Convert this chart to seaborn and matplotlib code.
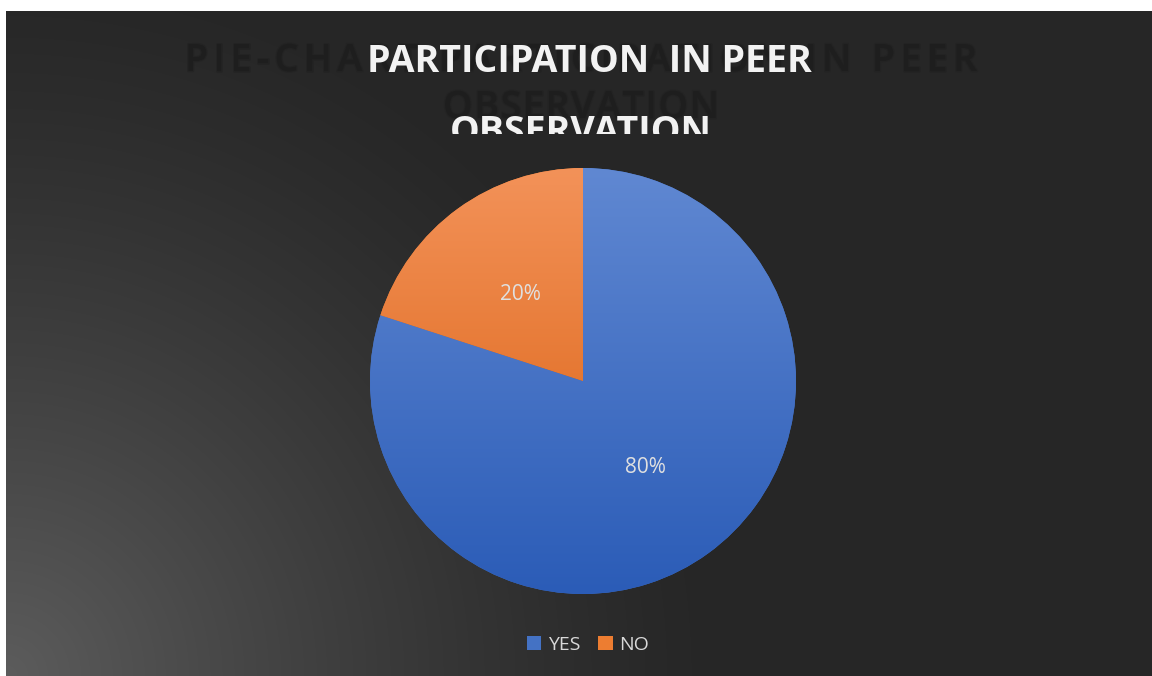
import numpy as np
import matplotlib
matplotlib.use("Agg")
import matplotlib.pyplot as plt
import matplotlib.patheffects as pe
import seaborn as sns
from matplotlib.patches import Rectangle
from matplotlib.colors import LinearSegmentedColormap

sns.set_theme(style="dark")
plt.rcParams["font.family"] = ["Open Sans", "DejaVu Sans"]

# data
labels = ["YES", "NO"]
shares = [80, 20]
title_lines = ["PARTICIPATION  IN PEER", "OBSERVATION"]
ghost_lines = ["PIE-CHART PARTICIPATION IN PEER", "OBSERVATION"]

top_colors = ["#6088d2", "#f39259"]
bottom_colors = ["#2b5cb7", "#d85d0c"]
flat_colors = ["#4472c4", "#ed7d31"]

W, H = 1152, 676
fig = plt.figure(figsize=(W / 100, H / 100), dpi=100)
fig.patch.set_facecolor("white")
renderer = fig.canvas.get_renderer()


def spaced_text(s, xc, yc, width, **kw):
    # draw a string letter by letter so it spans `width` pixels
    parts = [fig.text(0, 0, ch, ha="left", va="center", **kw) for ch in s]
    space_w = kw.get("fontsize", 12) * 0.36
    ws = [p.get_window_extent(renderer).width if ch != " " else space_w
          for p, ch in zip(parts, s)]
    gap = (width - sum(ws)) / max(len(s) - 1, 1)
    x = xc - width / 2
    for p, w in zip(parts, ws):
        p.set_position((x / W, yc / H))
        x += w + gap
    return parts


# dark panel with a soft radial glow from the bottom-left corner
bg = fig.add_axes([6 / W, 0, 1 - 6 / W, 1 - 11 / H])
bg.set_axis_off()
yy, xx = np.mgrid[0:H - 11, 0:W - 6]
d = np.hypot(xx, (H - 11) - yy)
glow = np.clip(1 - d / 720, 0, 1) ** 1.3
bg_cmap = LinearSegmentedColormap.from_list("bg", ["#262626", "#5c5c5c"])
bg.imshow(glow, cmap=bg_cmap, vmin=0, vmax=1, aspect="auto",
          interpolation="bilinear")

# pie
cx, cy, r = 583, H - 381, 213
ax = fig.add_axes([(cx - r) / W, (cy - r) / H, 2 * r / W, 2 * r / H])
ax.set_axis_off()
wedges, texts, autotexts = ax.pie(
    shares, colors=flat_colors, startangle=90, counterclock=False,
    autopct="%1.0f%%", pctdistance=0.5, radius=1,
    wedgeprops=dict(linewidth=0),
    textprops=dict(color="#e0e0e0", fontsize=15),
)
ax.set_xlim(-1, 1)
ax.set_ylim(-1, 1)
ax.set_aspect("equal")

grad = np.linspace(1, 0, 256).reshape(-1, 1)
for w, c_top, c_bot in zip(wedges, top_colors, bottom_colors):
    cm = LinearSegmentedColormap.from_list("g", [c_bot, c_top])
    im = ax.imshow(grad, cmap=cm, vmin=0, vmax=1, extent=[-1, 1, -1, 1],
                   aspect="auto", zorder=w.get_zorder() + 0.1)
    im.set_clip_path(w)
for t in autotexts:
    t.set_zorder(10)

# ghost title (soft, a little darker than the panel)
soft = [pe.Stroke(linewidth=2, foreground="#212121", alpha=0.6), pe.Normal()]
spaced_text(ghost_lines[0], 581, H - 61, 792, color="#1e1e1e",
            fontsize=27, fontweight="semibold", path_effects=soft)
spaced_text(ghost_lines[1], 581, H - 108, 276, color="#1e1e1e",
            fontsize=27, fontweight="semibold", path_effects=soft)

# white title, second line cut by the plot area top
fig.text(589 / W, 1 - 62 / H, title_lines[0], ha="center", va="center",
         color="#f2f2f2", fontsize=27, fontweight="bold")
line2 = fig.text(581 / W, 1 - 133 / H, title_lines[1], ha="center",
                 va="center", color="#f2f2f2", fontsize=27, fontweight="bold")
clip = Rectangle((0, 1 - 134 / H), 1, 134 / H, transform=fig.transFigure,
                 visible=False)
fig.add_artist(clip)
line2.set_clip_path(clip)

fig.legend(wedges, labels, loc="center", bbox_to_anchor=(588 / W, 1 - 645 / H),
           ncol=2, frameon=False, fontsize=14, labelcolor="#d9d9d9",
           handlelength=0.75, handleheight=0.75, handletextpad=0.35,
           columnspacing=0.9)

fig.savefig("out.png", dpi=100, facecolor=fig.get_facecolor())
